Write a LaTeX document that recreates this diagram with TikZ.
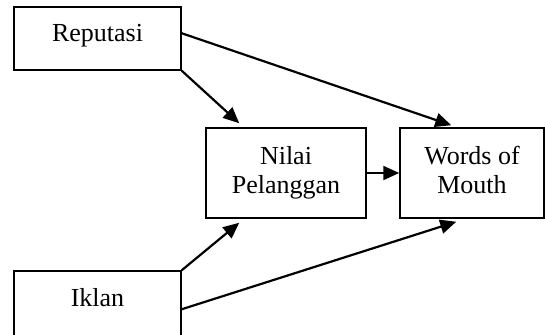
\documentclass[tikz,border=0pt]{standalone}
\usepackage{fontspec}
\setmainfont{Liberation Serif}
\usetikzlibrary{
  arrows.meta,
  calc
}

\begin{document}
\begin{tikzpicture}[
  x=0.5pt, y=-0.5pt,
  every node/.style = {shape=rectangle, draw, line width=0.75pt,
    align=center, inner sep=0pt,
    font=\fontsize{13}{14.5}\selectfont},
  midbox/.style = {minimum height=45pt, text depth=3pt},
  link/.style = {line width=1.1pt, -{Triangle[length=8pt,width=7pt]}}]
  \path[use as bounding box, clip] (0,0) rectangle (545,335);
  \node (reputasi) at (97.5,38.5) [minimum width=83.5pt,
    text height=17.5pt, text depth=14pt] {Reputasi};
  \node (iklan) at (97.5,308) [minimum width=83.5pt,
    text height=18pt, text depth=19pt] {Iklan};
  \node (nilai) at (286,173) [midbox, minimum width=80pt] {Nilai\\Pelanggan};
  \node (wom) at (472,173) [midbox, minimum width=72pt] {Words of\\Mouth};
  \draw[link] ($(reputasi.north east)+(0,27)$) -- ($(wom.north west)+(52,-2)$);
  \draw[link] (reputasi.south east) -- ($(nilai.north west)+(34,-4)$);
  \draw[link] (nilai.east) -- (wom.west);
  \draw[link] (iklan.north east) -- ($(nilai.south west)+(34,4)$);
  \draw[link] ($(iklan.north east)+(0,39)$) -- ($(wom.south west)+(57,3)$);
\end{tikzpicture}
\end{document}
